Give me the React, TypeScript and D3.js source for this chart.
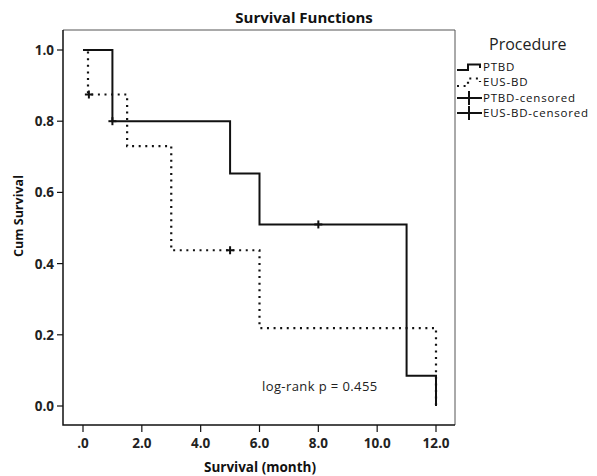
import React, { useRef, useEffect } from 'react'
import * as d3 from 'd3'

// survival steps
const ptbdTimes = [0, 1, 5, 6, 11, 12]
const ptbdSurv = [1.0, 0.8, 0.653, 0.51, 0.085, 0.0]
const ptbdCensT = [1, 8]
const ptbdCensS = [0.8, 0.51]

const eusTimes = [0, 0.17, 1.5, 3, 6, 12]
const eusSurv = [1.0, 0.875, 0.73, 0.4375, 0.219, 0.0]
const eusCensT = [0.2, 5]
const eusCensS = [0.875, 0.4375]

const xTicks = [0, 2, 4, 6, 8, 10, 12]
const yTicks = [0, 0.2, 0.4, 0.6, 0.8, 1.0]
const legendLabels = ['PTBD', 'EUS-BD', 'PTBD-censored', 'EUS-BD-censored']

const font = '"Open Sans", "DejaVu Sans", sans-serif'

export default function App() {
  const canvas = useRef<SVGSVGElement>(null)

  useEffect(() => {
    const svg = d3.select(canvas.current)
    svg.selectAll('*').remove()

    const left = 63, top = 30, right = 455, bottom = 425

    const x = d3.scaleLinear().domain([0, 12]).range([83, 436])
    const y = d3.scaleLinear().domain([0, 1]).range([406, 50])

    svg.append('rect')
      .attr('width', 597).attr('height', 476).attr('fill', '#fff')

    // frame
    svg.append('path')
      .attr('d', `M${left},${top}H${right}V${bottom}`)
      .attr('fill', 'none').attr('stroke', '#555').attr('stroke-width', 1)
    svg.append('path')
      .attr('d', `M${left},${top}V${bottom}H${right}`)
      .attr('fill', 'none').attr('stroke', '#111').attr('stroke-width', 1.5)

    // y axis ticks
    const yg = svg.append('g')
    yg.selectAll('line').data(yTicks).enter().append('line')
      .attr('x1', left - 6).attr('x2', left)
      .attr('y1', d => y(d)).attr('y2', d => y(d))
      .attr('stroke', '#111').attr('stroke-width', 1.2)
    yg.selectAll('text').data(yTicks).enter().append('text')
      .attr('x', left - 9).attr('y', d => y(d) + 5)
      .attr('text-anchor', 'end')
      .attr('font-family', font).attr('font-weight', 'bold').attr('font-size', 13.5)
      .attr('fill', '#222')
      .text(d => d3.format('.1f')(d))

    // x axis ticks
    const xg = svg.append('g')
    xg.selectAll('line').data(xTicks).enter().append('line')
      .attr('x1', d => x(d)).attr('x2', d => x(d))
      .attr('y1', bottom).attr('y2', bottom + 7)
      .attr('stroke', '#111').attr('stroke-width', 1.2)
    xg.selectAll('text').data(xTicks).enter().append('text')
      .attr('x', d => x(d)).attr('y', 448)
      .attr('text-anchor', 'middle')
      .attr('font-family', font).attr('font-weight', 'bold').attr('font-size', 13.5)
      .attr('fill', '#222')
      .text(d => d === 0 ? '.0' : d3.format('.1f')(d))

    // titles
    svg.append('text')
      .attr('x', 304).attr('y', 23).attr('text-anchor', 'middle')
      .attr('font-family', font).attr('font-weight', 'bold').attr('font-size', 15)
      .attr('fill', '#111')
      .text('Survival Functions')
    svg.append('text')
      .attr('x', 260).attr('y', 472).attr('text-anchor', 'middle')
      .attr('font-family', font).attr('font-weight', 'bold').attr('font-size', 13.5)
      .attr('fill', '#111')
      .text('Survival (month)')
    svg.append('text')
      .attr('transform', 'translate(23,216) rotate(-90)')
      .attr('text-anchor', 'middle')
      .attr('font-family', font).attr('font-weight', 'bold').attr('font-size', 12.5)
      .attr('fill', '#111')
      .text('Cum Survival')

    const ptbdPts = ptbdTimes.map((t, i) => [x(t), y(ptbdSurv[i])] as [number, number])
    const eusPts = eusTimes.map((t, i) => [x(t), y(eusSurv[i])] as [number, number])

    svg.append('path')
      .attr('d', d3.line().curve(d3.curveStepAfter)(eusPts))
      .attr('fill', 'none').attr('stroke', '#111').attr('stroke-width', 2.2)
      .attr('stroke-dasharray', '2,4.6')
    svg.append('path')
      .attr('d', d3.line().curve(d3.curveStepAfter)(ptbdPts))
      .attr('fill', 'none').attr('stroke', '#111').attr('stroke-width', 2)

    // censored marks
    const cens = ptbdCensT.map((t, i) => [t, ptbdCensS[i]])
      .concat(eusCensT.map((t, i) => [t, eusCensS[i]]))
    const cg = svg.append('g').attr('stroke', '#111').attr('stroke-width', 2)
    cens.forEach(([t, s]) => {
      cg.append('line')
        .attr('x1', x(t)).attr('x2', x(t))
        .attr('y1', y(s) - 4).attr('y2', y(s) + 4)
      cg.append('line')
        .attr('x1', x(t) - 4).attr('x2', x(t) + 4)
        .attr('y1', y(s)).attr('y2', y(s))
    })

    // legend
    svg.append('text')
      .attr('x', 489).attr('y', 50)
      .attr('font-family', font).attr('font-size', 16).attr('fill', '#222')
      .text('Procedure')
    const lg = svg.append('g')
    const rows = [67, 82, 98, 113]
    lg.selectAll('text').data(legendLabels).enter().append('text')
      .attr('x', 483).attr('y', (d, i) => rows[i] + 4)
      .attr('font-family', font).attr('font-size', 11.5).attr('letter-spacing', 0.8)
      .attr('fill', '#111')
      .text(d => d)
    lg.append('path')
      .attr('d', 'M457,70H468V64.5H480V68')
      .attr('fill', 'none').attr('stroke', '#111').attr('stroke-width', 2)
    lg.append('path')
      .attr('d', 'M457,86H468V78.5H480V82')
      .attr('fill', 'none').attr('stroke', '#111').attr('stroke-width', 2.2)
      .attr('stroke-dasharray', '2,4.6')
    ;[98, 113].forEach(r => {
      lg.append('line').attr('x1', 457).attr('x2', 482).attr('y1', r).attr('y2', r)
        .attr('stroke', '#111').attr('stroke-width', 2)
      lg.append('line').attr('x1', 469).attr('x2', 469).attr('y1', r - 7).attr('y2', r + 7)
        .attr('stroke', '#111').attr('stroke-width', 2)
    })

    // log-rank note
    svg.append('text')
      .attr('x', 262).attr('y', 391)
      .attr('font-family', font).attr('font-size', 13).attr('letter-spacing', 0.4)
      .attr('fill', '#222')
      .text('log-rank p = 0.455')
  }, [])

  return (
    <svg ref={canvas} width={597} height={476}
      style={{ position: 'absolute', left: 0, top: 0 }} />
  )
}
